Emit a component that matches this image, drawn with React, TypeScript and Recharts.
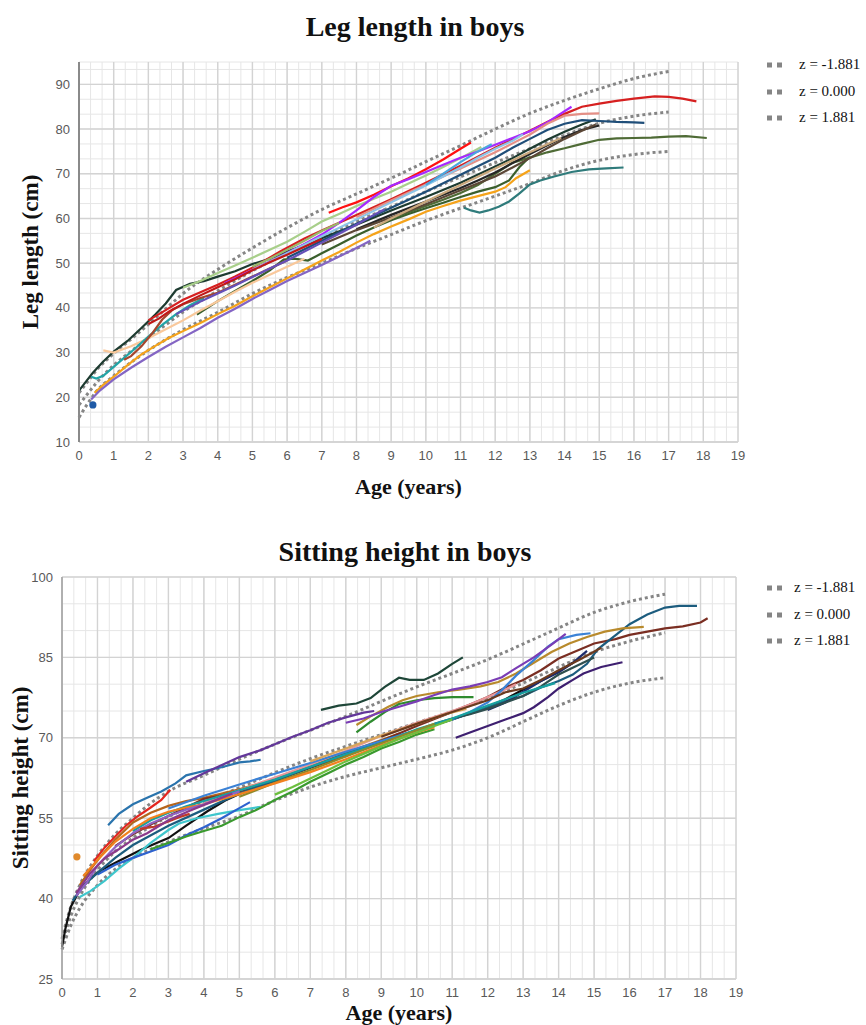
import { CartesianGrid, Line, LineChart, XAxis, YAxis } from "recharts";

type Pt = [number, number];

// shared age axis
const AGE_TICKS = [0, 1, 2, 3, 4, 5, 6, 7, 8, 9, 10, 11, 12, 13, 14, 15, 16, 17, 18, 19];
const Z_AGES = [0, 0.25, 0.5, 1, 1.5, 2, 2.5, 3, 4, 5, 6, 7, 8, 9, 10, 11, 12, 13, 14, 15, 16, 17];
const Z_LABELS = ["z = -1.881", "z = 0.000", "z = 1.881"];

// leg length reference curves
const LEG_Z_LOW = [15.5, 18.6, 21.3, 24.8, 27.8, 30.5, 32.9, 35.1, 39, 43.2, 46.8, 50, 53.3, 56.4, 59.5, 62.3, 65, 67.8, 70.8, 73, 74.3, 75];
const LEG_Z_MID = [18.3, 20.8, 23.2, 27.2, 30.3, 33.3, 36.2, 39.1, 43.8, 48.3, 52.3, 55.8, 59.3, 62.6, 66, 69.3, 72.5, 75.6, 78.6, 81.3, 82.9, 83.8];
const LEG_Z_HIGH = [21, 23.5, 26, 29.8, 33, 36.3, 39.8, 43.2, 48.6, 53.4, 57.9, 62, 65.5, 69, 72.7, 76.3, 80, 83.5, 86.4, 89, 91.3, 92.9];
const LEG_TICKS = [10, 20, 30, 40, 50, 60, 70, 80, 90];

const LEG_KIDS: Pt[][] = [
  [[0, 21.5], [0.2, 23.5], [0.4, 25.5], [0.7, 28], [1, 30.2], [1.4, 32.6], [1.8, 35.5], [2.2, 38.5], [2.5, 41], [2.8, 44], [3.2, 45.4], [3.6, 46], [4, 47], [4.5, 48.2], [5, 49.8], [5.5, 51], [6, 52.6], [6.5, 54], [7, 55.6], [8, 58.6], [9, 61.8], [10, 64.8], [11, 68], [12, 71.6], [12.5, 73.5], [13, 75.6], [13.5, 77.6], [14, 79.4], [14.5, 81], [14.9, 82.2]],
  [[3, 44.5], [3.5, 46], [4, 47.8], [4.5, 49.5], [5, 51.2], [5.5, 53], [6, 54.8], [6.5, 57], [7, 59.3], [7.5, 61], [8, 62.8], [8.5, 64.4], [9, 66], [9.5, 67.8], [10, 69.6], [10.5, 71.5], [11, 73.5], [11.6, 76]],
  [[7.2, 61.3], [7.6, 62.5], [8, 63.6], [8.5, 65.3], [9, 67.2], [9.5, 69], [10, 71], [10.5, 73.2], [11, 75.6], [11.3, 77]],
  [[2, 37.2], [2.5, 39.5], [3, 41.8], [3.5, 43.5], [4, 45.2], [4.5, 47], [5, 49], [5.8, 52.6], [6.5, 55.5], [7, 57.3], [8, 60.8], [9, 64.3], [10, 68], [11, 71.8], [12, 75.8], [12.5, 77.7], [13, 79.6], [13.5, 81.6], [14, 83.4], [14.5, 85], [15, 85.7], [15.5, 86.3], [16, 86.8], [16.6, 87.3], [17, 87.2], [17.4, 86.8], [17.8, 86.2]],
  [[4.2, 45.5], [5, 48.5], [6, 52.3], [6.5, 54.3], [7, 56.4], [7.5, 59], [8, 61.8], [8.5, 64.8], [9, 67.3], [9.5, 68.8], [10, 70.4], [10.5, 72], [11, 73.6], [11.5, 75], [12, 76.5], [12.5, 78], [13, 79.5], [13.5, 81.5], [13.8, 83], [14.2, 85]],
  [[0.45, 21], [0.7, 22.8], [1, 24.6], [1.4, 27.2], [1.8, 29.6], [2.2, 31.5], [2.6, 33.3], [3, 34.8], [3.5, 36.6], [4, 38.6], [4.5, 40.5], [5, 42.6], [5.5, 44.6], [6, 46.6], [6.5, 48.6], [7, 50.6], [7.5, 52.5], [8, 54.6], [8.5, 56.5], [9, 58.2], [9.5, 59.8], [10, 61.5], [10.5, 62.8], [11, 64], [11.5, 65], [12, 66], [12.3, 67], [12.6, 69], [13, 70.8]],
  [[0.35, 19.5], [0.6, 21.5], [1, 24], [1.5, 26.6], [2, 29], [2.5, 31.3], [3, 33.4], [3.5, 35.5], [4, 37.8], [4.5, 39.8], [5, 42], [5.5, 44], [6, 46], [6.5, 47.8], [7, 49.6], [7.5, 51.5], [8, 53.4], [8.4, 55]],
  [[11.1, 62.4], [11.3, 61.8], [11.55, 61.3], [11.8, 61.8], [12.1, 62.6], [12.4, 63.8], [12.7, 65.6], [13, 67.6], [13.3, 68.5], [13.7, 69.4], [14.2, 70.4], [14.7, 71], [15.2, 71.2], [15.7, 71.4]],
  [[8.8, 59.5], [9.5, 61.4], [10, 62.8], [10.5, 64.2], [11, 65.7], [11.5, 67.5], [12, 70], [12.5, 72.5], [13, 73.6], [13.5, 74.8], [14, 75.7], [14.5, 76.7], [15, 77.6], [15.5, 77.9], [16, 78], [16.5, 78.1], [17, 78.3], [17.5, 78.4], [18.1, 78]],
  [[3.4, 38.5], [4, 41.5], [4.5, 43.8], [5, 46], [5.5, 48.4], [5.9, 50.8], [6.2, 51], [6.6, 50.6], [7, 52.2], [7.5, 54.2], [8, 56.2], [8.5, 58], [9, 59.6], [9.5, 61], [10, 62.3], [10.5, 63.5], [11, 64.8], [11.5, 66], [12, 67], [12.4, 68.5], [12.7, 71.5], [13, 73.8]],
  [[6, 51.2], [7, 55], [8, 58.8], [9, 62.4], [10, 66], [11, 69.8], [12, 73.6], [12.5, 75.8], [13, 77.8], [13.5, 79.8], [14, 81.2], [14.5, 82], [15, 81.8], [15.5, 81.6], [16, 81.5], [16.3, 81.4]],
  [[8, 57.6], [9, 60.8], [10, 63.8], [11, 66.8], [11.5, 68.5], [12, 70.3], [12.5, 72.4], [13, 74.4], [13.5, 76.4], [14, 78.2], [14.5, 79.8], [15, 80.8]],
  [[7, 54.2], [8, 57.4], [9, 60.2], [10, 63.2], [11, 66.3], [12, 69.4], [12.5, 71.4], [13, 73.5], [13.5, 75.7], [14, 77.8], [14.5, 79.6], [14.9, 81]],
  [[8, 60.3], [9, 64], [10, 67.6], [11, 71.2], [12, 74.8], [12.5, 76.8], [13, 78.8], [13.5, 81.2], [14, 83], [14.5, 83.4], [15, 83.5]],
  [[5, 48.4], [6, 52.2], [7, 56], [8, 59.8], [9, 63.6], [10, 67.4], [11, 71.4], [11.5, 73.6], [12, 75.6], [12.5, 77.4], [12.8, 78.8]],
  [[10, 67.5], [10.5, 70], [11, 72.6], [11.5, 75], [11.9, 76.6]],
  [[0.7, 30.5], [1, 30], [1.5, 31.4], [2, 33.2], [2.5, 35.2], [3, 37.2], [3.5, 39.4], [4, 41.5], [4.5, 43.6], [5, 45.6], [5.5, 47.4], [6, 49.2], [6.5, 51]],
  [[0.35, 24.6], [0.5, 24.2], [0.7, 24.8], [1, 26.8], [1.3, 28.8], [1.6, 30.8], [2, 33.6], [2.4, 36.2], [2.8, 38.6], [3.2, 40.6], [3.6, 42.2]],
  [[1.3, 28.4], [1.5, 29.2], [1.8, 31.4], [2.1, 34.2], [2.4, 37.4], [2.7, 39.6], [3, 40.8], [3.5, 42.2], [4, 43.4], [4.5, 45.2], [5, 47], [5.5, 48.8], [6, 50.6]],
  [[2, 36.4], [2.3, 37.6], [2.6, 39.2], [3, 40.9], [3.5, 42.8], [4, 44.6], [4.5, 46.4], [5, 48.4], [5.5, 50.2], [6, 51.9], [6.5, 53.7], [7, 55.4]],
  [[2.8, 38.6], [3.5, 41.4], [4, 43.2], [4.5, 45], [5, 46.9], [5.5, 48.8], [6, 50.6], [6.5, 52.6], [7, 54.6], [7.5, 56.6], [8, 58.6], [8.5, 60.8], [8.8, 62]],
  [[8.5, 58], [9, 60], [10, 63.8], [11, 67.5], [12, 71.2], [13, 74.8], [13.5, 76.6], [13.9, 78]],
  [[5, 49.2], [5.5, 51], [6, 53], [6.5, 55], [7, 57.2], [7.5, 59]],
  [[0.4, 18.3]],
];
const LEG_COLORS = [
  "#1d3b30", "#a8cf8a", "#ff1111", "#d62020", "#a629ff", "#f5a31a", "#8465c4", "#2f7b7b",
  "#4f6b36", "#3a5f2c", "#1f4e79", "#262626", "#5b4636", "#e48f86", "#8cc4e8", "#4ba6dd",
  "#f9c89b", "#23a4a6", "#a5462d", "#c01818", "#6650b8", "#c9a77c", "#98b86a", "#1f5aa6",
];

// sitting height reference curves
const SIT_Z_LOW = [30.5, 35, 38.2, 42.5, 45.5, 47.6, 49.2, 50.6, 53.1, 55.4, 58.3, 60.8, 62.8, 64.4, 66, 67.7, 70, 73, 76, 78.5, 80.2, 81.2];
const SIT_Z_MID = [31.5, 36.8, 40.4, 45.3, 48.8, 51.3, 53.5, 55.3, 58, 60.7, 63.5, 66.1, 68.4, 70.6, 72.8, 74.9, 77.3, 80.2, 83.2, 86, 88, 89.6];
const SIT_Z_HIGH = [32.5, 38.5, 42.5, 48, 52, 55, 57.8, 60, 63, 66, 68.8, 71.4, 74, 76.8, 79.5, 82, 84.6, 87.5, 90.5, 93.4, 95.4, 96.8];
const SIT_TICKS = [25, 40, 55, 70, 85, 100];

const SIT_KIDS: Pt[][] = [
  [[1.3, 53.7], [1.6, 55.8], [2, 57.6], [2.4, 58.8], [2.8, 60], [3.2, 61.5], [3.5, 63], [4, 63.8], [4.5, 64.5], [5, 65.4], [5.3, 65.6], [5.6, 65.9]],
  [[3.5, 61.8], [4, 63.4], [4.6, 65.2], [5, 66.4], [5.6, 67.7], [6, 68.8], [6.5, 70.2], [7, 71.4], [7.5, 72.8], [8, 73.8], [8.5, 74.7], [8.8, 75]],
  [[7.3, 75.2], [7.8, 76], [8.3, 76.4], [8.7, 77.4], [9.1, 79.5], [9.5, 81.2], [9.8, 80.8], [10.2, 80.8], [10.6, 82], [11, 83.8], [11.3, 85]],
  [[0, 31], [0.1, 34.5], [0.25, 38.5], [0.5, 41.6], [0.8, 43.8], [1.1, 45.3], [1.6, 47], [2.2, 49], [2.6, 50.2], [3, 51.3], [3.5, 53.6], [4.1, 56.3], [4.6, 58.3], [5, 59.5], [5.5, 60.7], [6, 62], [7, 64.4], [8, 66.8], [9, 69.2], [10, 71.4], [11, 73.4], [12, 75.8], [12.5, 77.2], [13, 79], [13.5, 80.6], [14, 82.4], [14.4, 84]],
  [[0.5, 40.3], [0.8, 41.4], [1.2, 43.3], [1.6, 45.6], [2, 47.6], [2.5, 50.4], [3, 52.8], [3.3, 54], [3.8, 55], [4.4, 55.8], [5, 56.5], [5.6, 57.1]],
  [[1, 44.5], [1.5, 46.3], [2, 47.6], [2.5, 48.8], [3, 50], [3.5, 51.8], [4, 53.3], [4.5, 55], [4.9, 56.5], [5.3, 58]],
  [[0.42, 47.8]],
  [[0.9, 47], [1.2, 49.5], [1.5, 51.6], [1.8, 53.6], [2.1, 55.2], [2.5, 57], [2.8, 58.4], [3.05, 60.3]],
  [[0.5, 42.5], [0.8, 45.4], [1.1, 48], [1.5, 51], [2, 54.2], [2.5, 56], [3, 57.3], [3.5, 58.2], [4, 58.8], [5, 60.4], [6, 62.3], [7, 64.7], [8, 67.2], [9, 69.6], [9.5, 70.8]],
  [[1.5, 49.8], [2, 52], [2.5, 53.8], [3, 55.4], [3.5, 57], [4, 58.6], [4.5, 59.2], [5, 60], [6, 62], [7, 64.5], [8, 66.6], [9, 69.4], [10, 72.2], [11, 74.8], [12, 77.6], [12.5, 79.4], [13, 80.8], [13.5, 82.6], [14, 84.8], [14.5, 86.2], [15, 87.6], [15.6, 88.4], [16, 89.2], [16.5, 89.8], [17, 90.4], [17.5, 90.8], [18, 91.5], [18.2, 92.3]],
  [[0.3, 39.6], [0.6, 42.4], [1, 44.8], [1.5, 47.6], [2, 50], [3, 53.6], [4, 56.6], [5, 59.6], [6, 62], [7, 64.5], [8, 67], [9, 69.4], [10, 71.4], [11, 73.4], [12, 75.6], [12.5, 76.8], [13, 77.8], [13.5, 79.4], [14, 80.6], [14.4, 81.8], [14.8, 83.8], [15.1, 86.5], [15.5, 88.6], [16, 91.2], [16.5, 93], [17, 94.3], [17.4, 94.6], [17.9, 94.6]],
  [[8.3, 72.4], [8.7, 74], [9.2, 75.8], [9.6, 77], [10, 77.8], [10.6, 78.5], [11.2, 79], [11.8, 79.6], [12.3, 80.4], [12.8, 82], [13.3, 84], [13.8, 86], [14.3, 87.6], [14.8, 88.8], [15.3, 89.8], [15.8, 90.4], [16.4, 90.7]],
  [[2.5, 49.2], [3, 50.4], [3.5, 51.6], [4, 52.6], [4.5, 53.6], [5, 55.2], [5.5, 56.6], [6, 58.4], [6.5, 60], [7, 61.8], [7.5, 63.4], [8, 65], [8.5, 66.4], [9, 68], [9.5, 69.2], [10, 70.6], [10.5, 71.6]],
  [[8.3, 71], [8.7, 73], [9.1, 74.8], [9.5, 76.3], [10, 77], [10.5, 77.4], [11, 77.6], [11.6, 77.6]],
  [[4, 58], [5, 60.2], [6, 62.6], [7, 65], [8, 67.6], [9, 70.4], [10, 72.8], [11, 75], [11.5, 76.2], [12, 77.6], [12.5, 79], [12.8, 80]],
  [[3, 56.8], [4, 59.2], [5, 61.3], [6, 63.3], [7, 65.3], [8, 67.4], [9, 69.4], [10, 71.4], [11, 73.4], [11.5, 74.8], [12, 76.6], [12.4, 78.9], [12.8, 81.6], [13.3, 84.5], [13.7, 87], [14, 88.4], [14.5, 89.2], [14.9, 89.5]],
  [[8, 72.8], [8.5, 73.6], [9, 74.8], [9.5, 75.8], [10, 76.8], [10.5, 78], [11, 79], [11.5, 79.6], [12, 80.4], [12.4, 81.3], [12.8, 83], [13.3, 85], [13.8, 87.4], [14.2, 89.4]],
  [[11.1, 70], [11.5, 71], [12, 72.2], [12.5, 73.4], [13, 74.6], [13.3, 75.7], [13.7, 77.6], [14, 79.2], [14.4, 80.8], [14.7, 82], [15.2, 83.2], [15.8, 84.1]],
  [[12, 75.2], [12.5, 76.6], [13, 78.6], [13.5, 80.6], [14, 82.2], [14.4, 84], [14.8, 86.2]],
  [[10.5, 72.6], [11, 73.6], [11.5, 74.4], [12, 75.4], [12.5, 76.6], [13, 77.8], [13.5, 79.6], [14, 81.8], [14.5, 83.4], [15, 85]],
  [[2, 52.6], [2.5, 54.6], [3, 56], [3.5, 57.2], [4, 58.2], [5, 60.2], [6, 62.2], [7, 64.6], [8, 66.9], [9, 69], [10, 71.6], [11, 73.6], [12, 76], [12.5, 77.2], [13, 78.4], [13.5, 79.4], [13.9, 80.2]],
  [[5, 59], [6, 61.6], [7, 64], [8, 66.5], [9, 69], [10, 71.4], [10.5, 72.6]],
  [[0.6, 44.2], [1, 47.2], [1.5, 50.6], [2, 53], [2.5, 55], [3, 56.2], [3.5, 57], [4, 57.6], [5, 59.5], [6, 61.5], [7, 63.6], [8, 66], [9, 68.6], [10, 71], [10.5, 72]],
  [[6, 59.4], [6.5, 60.8], [7, 62.4], [7.5, 64], [8, 65.6], [8.5, 67], [9, 68.4], [9.5, 69.8], [10, 71], [10.5, 72.2], [11, 73.4]],
  [[0.4, 40.5], [0.7, 43], [1, 46.2], [1.5, 49.6], [2, 52.2], [2.5, 54], [3, 55.4], [3.5, 56.6], [4, 57.6], [4.5, 58.8], [5, 60]],
  [[2.2, 53], [2.6, 53.4], [3, 54.4], [3.3, 55.2], [3.6, 55.8]],
  [[0.4, 41], [0.8, 44.8], [1.2, 47.5], [1.6, 49.2], [2, 51], [2.4, 52.2], [3, 54.6], [3.6, 56.4], [4.2, 58], [4.8, 59.6]],
  [[7, 65.6], [8, 68], [9, 70.4], [10, 72.6], [10.8, 74.4], [11.4, 75.4]],
  [[9, 70.2], [10, 72.6], [11, 74.8], [12, 77], [12.5, 78.5], [13, 79.2], [13.5, 80.8], [14, 82.6], [14.6, 84.6], [15.2, 86.8]],
];
const SIT_COLORS = [
  "#2a74ad", "#63379a", "#1e4638", "#111111", "#3fc6cc", "#2e62cf", "#e08a2c", "#e3261f",
  "#b5651d", "#7a2e22", "#1c5c7e", "#b88a2c", "#3a9a2e", "#2e8b2e", "#e8979a", "#3b82d6",
  "#7a3db5", "#3e1f70", "#1d2b6b", "#2f4f4f", "#17a0a0", "#8f8a2a", "#f2811e", "#6cbf3e",
  "#8f63c2", "#c0392b", "#8b3a8b", "#d9a65b", "#6b3a1f",
];

const toRows = (pts: Pt[]) => pts.map(([age, cm]) => ({ age, cm }));
const zRows = (vals: number[]) => Z_AGES.map((age, i) => ({ age, cm: vals[i] }));

const thirds = (to: number) => Array.from({ length: to * 3 + 1 }, (_, i) => i / 3);

const SERIF = "'Liberation Serif', 'DejaVu Serif', serif";
const TICK = { fill: "#595959", fontSize: 13, fontFamily: "'Liberation Sans', Arial, sans-serif" };
const X_TITLE = { fill: "#111", fontSize: 22, fontWeight: 700, fontFamily: SERIF };
const Y_TITLE = { ...X_TITLE, fontSize: 23, textAnchor: "middle" as const };

interface PanelProps {
  top: number;
  height: number;
  margin: { top: number; right: number; bottom: number; left: number };
  xAxisHeight: number;
  xLabelOffset: number;
  yLabelOffset: number;
  yDomain: [number, number];
  yTicks: number[];
  yMinor: number[];
  yTitle: string;
  yAxisLine: { stroke: string; strokeWidth: number };
  kids: Pt[][];
  colors: string[];
  z: number[][];
}

function GrowthPanel(p: PanelProps) {
  return (
    <div style={{ position: "absolute", left: 0, top: p.top }}>
      <LineChart width={866} height={p.height} margin={p.margin}>
        <CartesianGrid verticalValues={thirds(19)} horizontalValues={p.yMinor} stroke="#e6e6e6" strokeWidth={1} />
        <CartesianGrid verticalValues={AGE_TICKS} horizontalValues={p.yTicks} stroke="#d3d3d3" strokeWidth={1.4} />
        <XAxis
          type="number"
          dataKey="age"
          domain={[0, 19]}
          ticks={AGE_TICKS}
          interval={0}
          height={p.xAxisHeight}
          tickLine={false}
          tickSize={0}
          tickMargin={9}
          axisLine={{ stroke: "#d3d3d3", strokeWidth: 1.4 }}
          tick={TICK}
          label={{ value: "Age (years)", position: "insideBottom", offset: p.xLabelOffset, style: X_TITLE }}
        />
        <YAxis
          type="number"
          domain={p.yDomain}
          ticks={p.yTicks}
          interval={0}
          width={60}
          tickLine={false}
          tickSize={0}
          tickMargin={9}
          axisLine={p.yAxisLine}
          tick={TICK}
          label={{ value: p.yTitle, angle: -90, position: "insideLeft", offset: p.yLabelOffset, style: Y_TITLE }}
        />
        {p.z.map((vals, i) => (
          <Line
            key={`z${i}`}
            data={zRows(vals)}
            dataKey="cm"
            type="monotone"
            stroke="#858585"
            strokeWidth={3}
            strokeDasharray="3 3"
            dot={false}
            isAnimationActive={false}
          />
        ))}
        {p.kids.map((pts, i) => (
          <Line
            key={`k${i}`}
            data={toRows(pts)}
            dataKey="cm"
            type="linear"
            stroke={p.colors[i]}
            strokeWidth={2.2}
            dot={pts.length === 1 ? { r: 2.5, fill: p.colors[i], stroke: p.colors[i] } : false}
            isAnimationActive={false}
          />
        ))}
      </LineChart>
    </div>
  );
}

function ZLegend({ top, textLeft }: { top: number; textLeft: number }) {
  return (
    <div style={{ position: "absolute", left: 767, top, fontFamily: SERIF, fontSize: 15, color: "#111" }}>
      {Z_LABELS.map((t) => (
        <div key={t} style={{ position: "relative", height: 26.5 }}>
          <svg width={16} height={8} style={{ position: "absolute", left: 0, top: 9 }}>
            <line x1={0} y1={4} x2={15} y2={4} stroke="#858585" strokeWidth={5} strokeDasharray="5 5" />
          </svg>
          <span style={{ position: "absolute", left: textLeft - 767, top: 4, whiteSpace: "nowrap" }}>{t}</span>
        </div>
      ))}
    </div>
  );
}

function Title({ text, cx, cy }: { text: string; cx: number; cy: number }) {
  return (
    <div
      style={{
        position: "absolute",
        left: cx - 300,
        top: cy - 16,
        width: 600,
        lineHeight: "32px",
        textAlign: "center",
        fontFamily: SERIF,
        fontWeight: 700,
        fontSize: 28,
        color: "#111",
      }}
    >
      {text}
    </div>
  );
}

export default function App() {
  return (
    <div style={{ position: "absolute", left: 0, top: 0, width: 866, height: 1025, background: "#fff", overflow: "hidden" }}>
      <Title text="Leg length in boys" cx={415} cy={27} />
      <GrowthPanel
        top={0}
        height={505}
        margin={{ top: 62, right: 128, bottom: 3, left: 19 }}
        xAxisHeight={60}
        xLabelOffset={8}
        yLabelOffset={11}
        yDomain={[10, 95]}
        yTicks={LEG_TICKS}
        yMinor={[...Array.from({ length: 26 }, (_, i) => 10 + (i * 10) / 3), 95]}
        yTitle="Leg length (cm)"
        yAxisLine={{ stroke: "#8a8a8a", strokeWidth: 2 }}
        kids={LEG_KIDS}
        colors={LEG_COLORS}
        z={[LEG_Z_LOW, LEG_Z_MID, LEG_Z_HIGH]}
      />
      <ZLegend top={52} textLeft={799} />

      <Title text="Sitting height in boys" cx={405} cy={552} />
      <GrowthPanel
        top={520}
        height={505}
        margin={{ top: 57, right: 130, bottom: 0, left: 2 }}
        xAxisHeight={46}
        xLabelOffset={5}
        yLabelOffset={18}
        yDomain={[25, 100]}
        yTicks={SIT_TICKS}
        yMinor={Array.from({ length: 16 }, (_, i) => 25 + i * 5)}
        yTitle="Sitting height (cm)"
        yAxisLine={{ stroke: "#a0a0a0", strokeWidth: 1.5 }}
        kids={SIT_KIDS}
        colors={SIT_COLORS}
        z={[SIT_Z_LOW, SIT_Z_MID, SIT_Z_HIGH]}
      />
      <ZLegend top={575} textLeft={794} />
    </div>
  );
}
